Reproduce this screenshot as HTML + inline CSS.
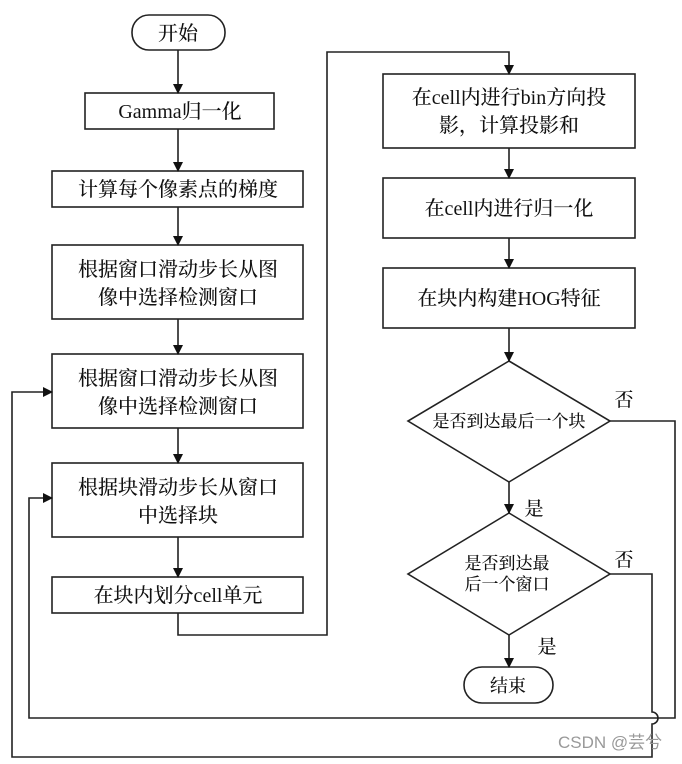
<!DOCTYPE html><html><head><meta charset="utf-8"><style>
body{margin:0;background:#fff}
svg text{font-family:"Liberation Serif","Noto Serif CJK SC",serif;fill:#111;font-weight:500}
</style></head><body>
<svg width="682" height="759" viewBox="0 0 682 759" xmlns="http://www.w3.org/2000/svg">
<defs><marker id="a" markerWidth="10" markerHeight="10" refX="9" refY="5" orient="auto" markerUnits="userSpaceOnUse"><path d="M0,0L10,5L0,10z" fill="#111"/></marker></defs>
<g fill="none" stroke="#222" stroke-width="1.6">
<rect x="132" y="15" width="93" height="35" rx="17"/>
<rect x="85" y="93" width="189" height="36"/>
<rect x="52" y="171" width="251" height="36"/>
<rect x="52" y="245" width="251" height="74"/>
<rect x="52" y="354" width="251" height="74"/>
<rect x="52" y="463" width="251" height="74"/>
<rect x="52" y="577" width="251" height="36"/>
<rect x="383" y="74" width="252" height="74"/>
<rect x="383" y="178" width="252" height="60"/>
<rect x="383" y="268" width="252" height="60"/>
<polygon points="509,361 610,421 509,482 408,421"/>
<polygon points="509,513 610,574 509,635 408,574"/>
<rect x="464" y="667" width="89" height="36" rx="18"/>
<g marker-end="url(#a)">
<line x1="178" y1="50" x2="178" y2="93"/>
<line x1="178" y1="129" x2="178" y2="171"/>
<line x1="178" y1="207" x2="178" y2="245"/>
<line x1="178" y1="319" x2="178" y2="354"/>
<line x1="178" y1="428" x2="178" y2="463"/>
<line x1="178" y1="537" x2="178" y2="577"/>
<polyline points="178,613 178,635 327,635 327,52 509,52 509,74"/>
<line x1="509" y1="148" x2="509" y2="178"/>
<line x1="509" y1="238" x2="509" y2="268"/>
<line x1="509" y1="328" x2="509" y2="361"/>
<line x1="509" y1="482" x2="509" y2="513"/>
<line x1="509" y1="635" x2="509" y2="667"/>
<polyline points="610,421 675,421 675,718 29,718 29,498 52,498"/>
<path d="M610,574 L652,574 L652,712 A6,6 0 0 1 652,724 L652,757 L12,757 L12,392 L52,392"/>
</g></g>
<g font-size="20" text-anchor="middle">
<text x="178" y="40">开始</text>
<text x="180" y="118">Gamma归一化</text>
<text x="178" y="196">计算每个像素点的梯度</text>
<text x="178" y="276">根据窗口滑动步长从图</text>
<text x="178" y="304">像中选择检测窗口</text>
<text x="178" y="385">根据窗口滑动步长从图</text>
<text x="178" y="413">像中选择检测窗口</text>
<text x="178" y="494">根据块滑动步长从窗口</text>
<text x="178" y="522">中选择块</text>
<text x="178" y="602">在块内划分cell单元</text>
<text x="509" y="104">在cell内进行bin方向投</text>
<text x="509" y="132">影，计算投影和</text>
<text x="509" y="215">在cell内进行归一化</text>
<text x="509" y="305">在块内构建HOG特征</text>
</g>
<g font-size="17" text-anchor="middle">
<text x="509" y="427">是否到达最后一个块</text>
<text x="507" y="569">是否到达最</text>
<text x="507" y="590">后一个窗口</text>
<text x="508" y="692" font-size="18">结束</text>
<text x="624" y="406" font-size="19">否</text>
<text x="624" y="566" font-size="19">否</text>
<text x="534" y="515" font-size="19">是</text>
<text x="547" y="653" font-size="19">是</text>
</g>
<text x="558" y="748" font-size="17" style="font-family:'Liberation Sans','Noto Sans CJK SC',sans-serif;fill:#999;font-weight:400">CSDN @芸兮</text>
</svg></body></html>
